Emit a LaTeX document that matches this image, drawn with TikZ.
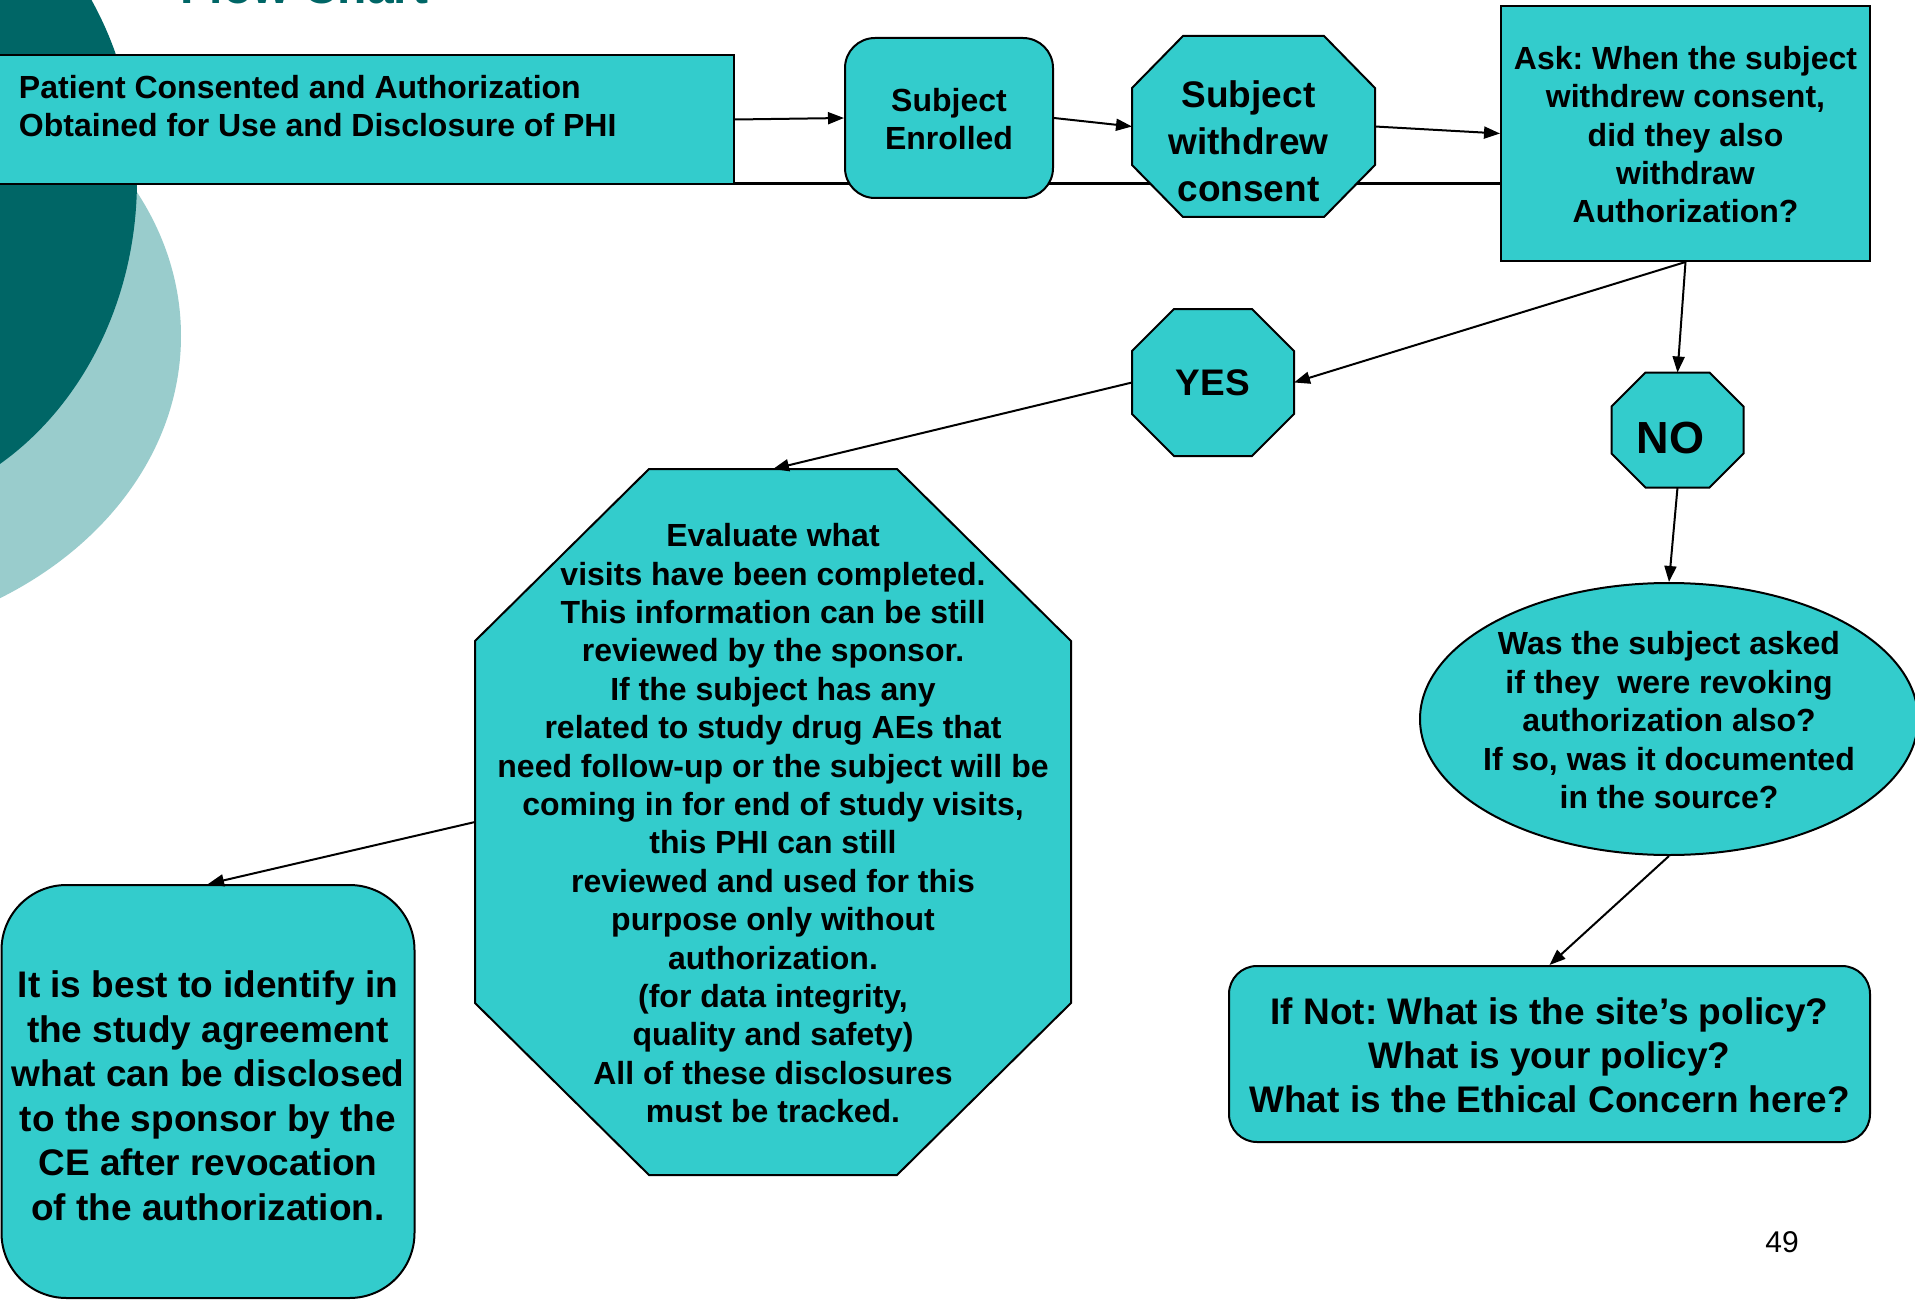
\documentclass[tikz,border=0pt]{standalone}
\usepackage{fontspec}
\setmainfont{Liberation Sans}
\usetikzlibrary{arrows.meta,shapes.geometric,backgrounds,calc}
\definecolor{nodecol}{RGB}{51,204,204}
\definecolor{darkteal}{RGB}{0,102,102}
\definecolor{lightteal}{RGB}{153,204,204}
\frenchspacing
\newcommand\lowered[2]{\vbox{\kern#1\hbox{#2}}}
\newcommand\stk[2][10pt]{\lowered{#1}{\begin{tabular}{@{}c@{}}#2\end{tabular}}}
\newcommand\octshape[3]{%
  \draw[fillc] ($(#1.north west)+(#2,0)$) -- ($(#1.north east)+(-#2,0)$)
    -- ($(#1.north east)+(0,#3)$) -- ($(#1.south east)+(0,-#3)$)
    -- ($(#1.south east)+(-#2,0)$) -- ($(#1.south west)+(#2,0)$)
    -- ($(#1.south west)+(0,-#3)$) -- ($(#1.north west)+(0,#3)$) -- cycle;}
\begin{document}
\begin{tikzpicture}[x=1pt,y=-1pt,
  fillc/.style={fill=nodecol, draw=black, line width=2pt},
  octnode/.style={draw=none, fill=none, inner sep=0pt, outer sep=1pt},
  fa/.style={font=\fontsize{32}{38.4}\selectfont\bfseries},
  fb/.style={font=\fontsize{37}{44.5}\selectfont\bfseries},
  conn/.style={line width=2pt, -{Triangle[length=16pt,width=12pt]}}]
\useasboundingbox (0,0) rectangle (1915,1300);

% background decoration
\begin{scope}[on background layer]
  \clip (0,0) rectangle (1915,1300);
  \fill[white] (0,0) rectangle (1915,1300);
  \fill[lightteal] (-200,336) ellipse [x radius=381pt, y radius=308pt];
  \fill[darkteal] (-150,180) ellipse [x radius=287pt, y radius=333pt];
  \draw[line width=3pt] (286,184) -- (1501,184);
\end{scope}

\node[anchor=base west, text=darkteal, font=\fontsize{48}{50}\selectfont\bfseries] (title) at (177,4) {Flow Chart};

% nodes
\node[fillc, anchor=north west, inner sep=0pt, minimum width=738pt, minimum height=129pt, fa] (box1) at (-5,54)
  {\parbox[c][129pt][t]{692pt}{\raggedright\vspace*{20pt}Patient Consented and Authorization\\Obtained for Use and Disclosure of PHI}};
\node[fillc, rounded corners=30pt, inner sep=0pt, minimum width=208pt, minimum height=160pt, fa] (se) at (949,118)
  {\stk{Subject\\Enrolled}};
\node[octnode, minimum width=241pt, minimum height=177pt, font=\fontsize{37}{47}\selectfont\bfseries] (wd) at (1253.5,126.5)
  {\stk[38pt]{Subject\\withdrew\\consent}\kern10pt};
\node[fillc, inner sep=0pt, minimum width=369pt, minimum height=255pt, fa] (ask) at (1685.5,133.5)
  {\stk{Ask: When the subject\\withdrew consent,\\did they also\\withdraw\\Authorization?}};
\node[octnode, minimum width=160pt, minimum height=145pt, font=\fontsize{37}{45}\selectfont\bfseries] (yes) at (1213,382.5) {YES};
\node[octnode, minimum width=130pt, minimum height=113pt, font=\fontsize{45}{50}\selectfont\bfseries] (no) at (1677.5,430)
  {\lowered{16pt}{NO\kern14pt}};
\node[octnode, minimum width=594pt, minimum height=704pt, font=\fontsize{32}{38.4}\selectfont\bfseries] (eval) at (773,822)
  {\stk{Evaluate what\\visits have been completed.\\This information can be still\\reviewed by the sponsor.\\If the subject has any\\related to study drug AEs that\\need follow-up or the subject will be\\coming in for end of study visits,\\this PHI can still\\reviewed and used for this\\purpose only without\\authorization.\\(for data integrity,\\quality and safety)\\All of these disclosures\\must be tracked.}};
\node[fillc, rounded corners=65pt, inner sep=0pt, minimum width=413pt, minimum height=413pt, fb] (itb) at (208,1091.5)
  {\stk[17pt]{It is best to identify in\\the study agreement\\what can be disclosed\\to the sponsor by the\\CE after revocation\\of the authorization.}};
\node[fillc, ellipse, inner sep=0pt, minimum width=498pt, minimum height=272pt, font=\fontsize{32}{38.5}\selectfont\bfseries] (q) at (1669,719)
  {\makebox[0pt]{\raisebox{-11.5pt}[0pt][0pt]{\begin{tabular}{@{}c@{}}Was the subject asked\\if they~ were revoking\\authorization also?\\If so, was it documented\\in the source?\end{tabular}}}};
\node[fillc, rounded corners=28pt, inner sep=0pt, minimum width=641pt, minimum height=176pt, font=\fontsize{37}{44}\selectfont\bfseries] (pol) at (1549.5,1054)
  {\stk[12pt]{If Not: What is the site’s policy?\\What is your policy?\\What is the Ethical Concern here?}};
\node[font=\fontsize{30}{32}\selectfont] (pg) at (1782,1242) {49};

% octagon outlines under their texts
\begin{scope}[on background layer]
  \octshape{wd}{51}{52}
  \octshape{yes}{42}{42}
  \octshape{no}{34}{34}
  \octshape{eval}{174}{172}
\end{scope}

% connectors
\draw[conn] (box1.east) -- (se.west);
\draw[conn] (se.east) -- (wd.west);
\draw[conn] (wd.east) -- (ask.west);
\draw[conn] (ask.south) -- (yes.east);
\draw[conn] (ask.south) -- (no.north);
\draw[conn] (yes.west) -- (eval.north);
\draw[conn] (eval.west) -- (itb.north);
\draw[conn] (no.south) -- (q.north);
\draw[conn] (q.south) -- (pol.north);
\end{tikzpicture}
\end{document}
